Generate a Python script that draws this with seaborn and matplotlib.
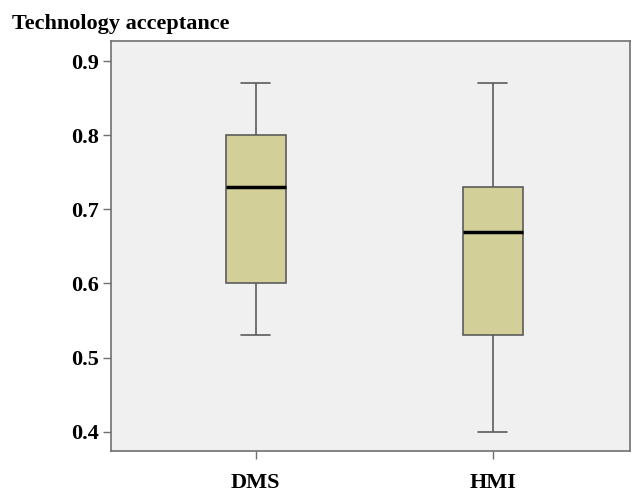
import numpy as np
import matplotlib.pyplot as plt
import pandas as pd
import seaborn as sns

# Valores: minimo, Q1, mediana, Q3, maximo
grupos = ["DMS", "HMI"]
dms_valores = [0.53, 0.60, 0.73, 0.80, 0.87]
hmi_valores = [0.40, 0.53, 0.67, 0.73, 0.87]
yticks = [0.4, 0.5, 0.6, 0.7, 0.8, 0.9]

df = pd.DataFrame({
    "grupo": ["DMS"] * len(dms_valores) + ["HMI"] * len(hmi_valores),
    "valor": dms_valores + hmi_valores,
})

sns.set_style("white")
plt.rcParams['font.family'] = ['Liberation Serif', 'DejaVu Serif']
plt.rcParams['text.color'] = 'black'
plt.rcParams['xtick.labelcolor'] = 'black'
plt.rcParams['ytick.labelcolor'] = 'black'

fig = plt.figure(figsize=(6.37, 4.92), dpi=100)
ax = fig.add_axes([111 / 637, 41 / 492, 519 / 637, 410 / 492])
ax.set_facecolor("#f0f0f0")

borde = "#5c5c5c"
sns.boxplot(
    data=df, x="grupo", y="valor", order=grupos, ax=ax,
    whis=np.inf, width=0.253, color="#d3cf98", saturation=1,
    linewidth=1.2, linecolor=borde,
    medianprops=dict(color="black", linewidth=2.5),
    capprops=dict(color=borde), whiskerprops=dict(color=borde),
    boxprops=dict(edgecolor=borde),
)
# ancho de los topes de bigote = mitad de la caja
for line in ax.lines:
    xd = line.get_xdata()
    yd = line.get_ydata()
    if len(xd) == 2 and yd[0] == yd[1] and abs(xd[1] - xd[0]) > 0 and line.get_color() != "black":
        c = (xd[0] + xd[1]) / 2
        line.set_xdata([c - 0.063, c + 0.063])

ax.set_xlim(-0.61, 1.58)
ax.set_ylim(0.374, 0.927)
ax.set_yticks(yticks)
ax.set_yticklabels([f"{t:.1f}" for t in yticks], fontsize=16, fontweight="bold")
ax.set_xticks(range(len(grupos)))
ax.set_xticklabels(grupos, fontsize=16, fontweight="bold")
ax.tick_params(axis="both", direction="out", length=6, width=1, color="#707070",
               bottom=True, left=True, labelcolor="black")
ax.tick_params(axis="y", pad=3)
ax.tick_params(axis="x", pad=10)
ax.set_xlabel("")
ax.set_ylabel("")
for s in ax.spines.values():
    s.set_color("#707070")
    s.set_linewidth(1.2)

fig.text(12 / 637, 1 - 29 / 492, "Technology acceptance", fontsize=16, fontweight="bold",
         ha="left", va="baseline", color="black")

fig.savefig("out.png", dpi=100)
